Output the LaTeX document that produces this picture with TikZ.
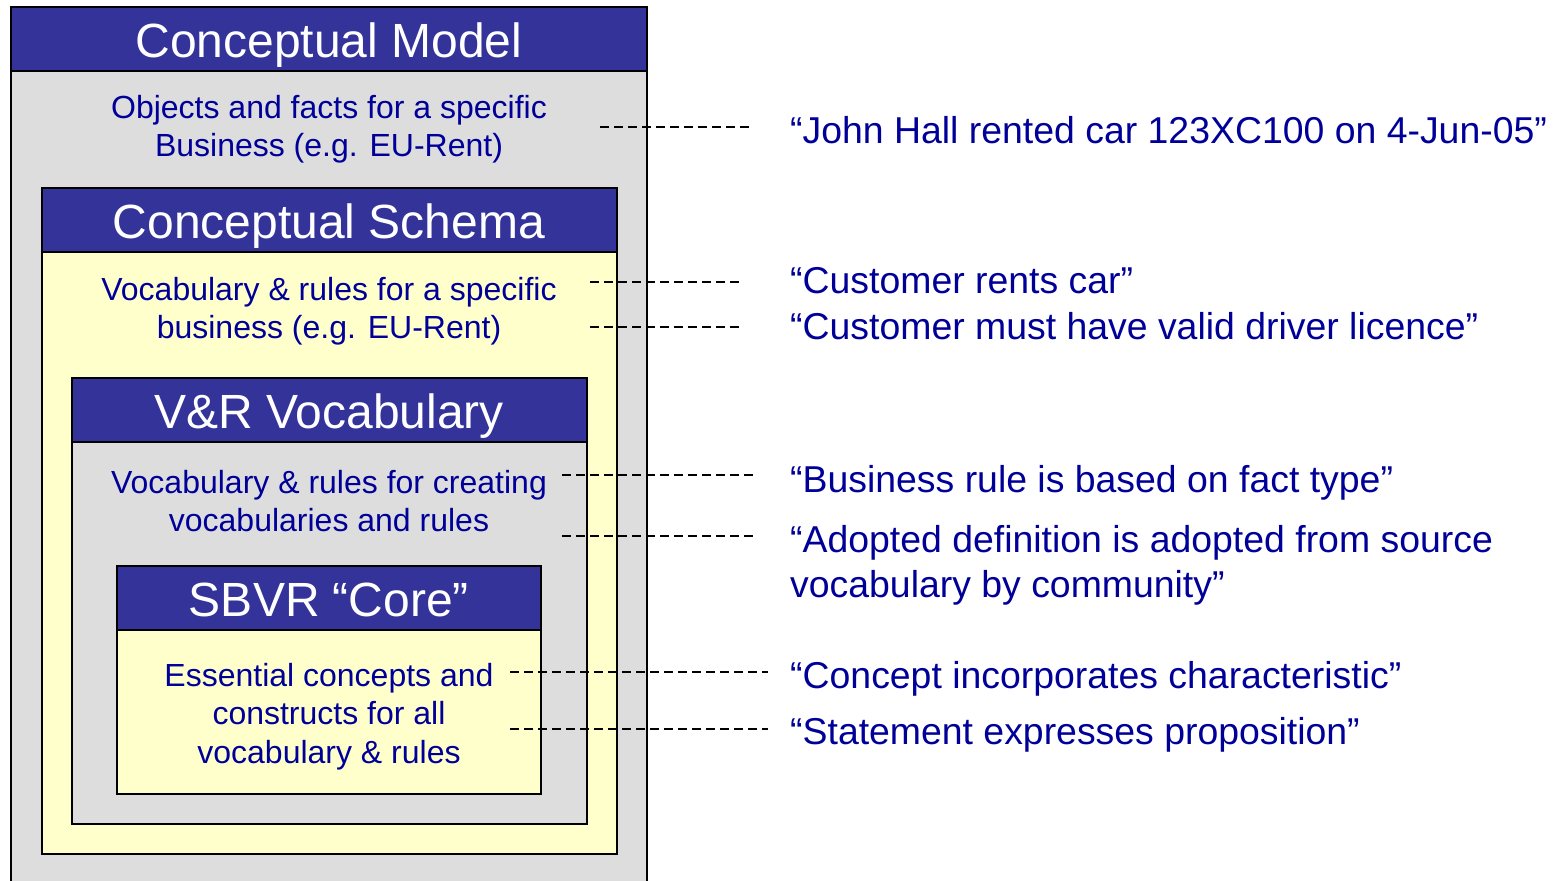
\documentclass[tikz,border=0pt]{standalone}
\usepackage{fontspec}
\setmainfont{Liberation Sans}
\usepackage{xcolor}
\usepackage{tikz}
\definecolor{headblue}{HTML}{333399}
\definecolor{boxgrey}{HTML}{DDDDDD}
\definecolor{boxyellow}{HTML}{FFFFCC}
\definecolor{textblue}{HTML}{000099}
\tikzstyle{greybox} = [rectangle, inner sep = 0pt, anchor = north, draw = black, line width = 2pt, fill = boxgrey]
\tikzstyle{yellowbox} = [rectangle, inner sep = 0pt, anchor = north, draw = black, line width = 2pt, fill = boxyellow]
\tikzstyle{headbar} = [rectangle, inner sep = 0pt, anchor = north, minimum height = 64pt, text height = 37pt, text depth = 0pt, draw = black, line width = 2pt, fill = headblue, text = white, font = \fontsize{48}{56}\selectfont]
\tikzstyle{desctext} = [inner sep = 0pt, align = center, text = textblue, font = \fontsize{32}{38.5}\selectfont]
\tikzstyle{quotetext} = [inner sep = 0pt, anchor = base west, align = left, text = textblue, font = \fontsize{37.4}{45}\selectfont]
\tikzstyle{link} = [dash pattern = on 9pt off 5pt, line width = 1.6pt]

\begin{document}
\begin{tikzpicture}[x = 1pt, y = -1pt]
	\clip (0,0) rectangle (1559,881);
	\fill [white] (0,0) rectangle (1559,881);

	\node (model)[greybox, minimum width = 636pt, minimum height = 900pt] at (329,6){};
	\node (modelhead)[headbar, minimum width = 636pt] at (model.north){Conceptual Model};
	\node (modeldesc)[desctext] at (329,129){Objects and facts for a specific\\Business (e.g. EU-Rent)};

	\node (schema)[yellowbox, minimum width = 575pt, minimum height = 666pt] at (329,187){};
	\node (schemahead)[headbar, minimum width = 575pt] at (schema.north){Conceptual Schema};
	\node (schemadesc)[desctext] at (329,311){Vocabulary \& rules for a specific\\business (e.g. EU-Rent)};

	\node (vr)[greybox, minimum width = 515pt, minimum height = 446pt] at (329,377){};
	\node (vrhead)[headbar, minimum width = 515pt] at (vr.north){V\&R Vocabulary};
	\node (vrdesc)[desctext] at (329,501){Vocabulary \& rules for creating\\vocabularies and rules};

	\node (core)[yellowbox, minimum width = 424pt, minimum height = 228pt] at (329,565){};
	\node (corehead)[headbar, minimum width = 424pt] at (core.north){SBVR “Core”};
	\node (coredesc)[desctext] at (329,716.5){Essential concepts and\\constructs for all\\vocabulary \& rules};

	\node (fact)[quotetext] at (790,143){“John Hall rented car 123XC100 on 4-Jun-05”};
	\node (rents)[quotetext] at (790,293){“Customer rents car”};
	\node (licence)[quotetext] at (790,339){“Customer must have valid driver licence”};
	\node (based)[quotetext] at (790,492){“Business rule is based on fact type”};
	\node (adopted)[quotetext, anchor = west] at (790,565){“Adopted definition is adopted from source\\vocabulary by community”};
	\node (incorp)[quotetext] at (790,688){“Concept incorporates characteristic”};
	\node (expresses)[quotetext] at (790,744){“Statement expresses proposition”};

	\coordinate (fact1) at (600,127);
	\coordinate (fact2) at (752,127);
	\coordinate (rents1) at (590,282);
	\coordinate (rents2) at (742,282);
	\coordinate (licence1) at (590,327);
	\coordinate (licence2) at (742,327);
	\coordinate (based1) at (562,475);
	\coordinate (based2) at (757,475);
	\coordinate (adopted1) at (562,536);
	\coordinate (adopted2) at (757,536);
	\coordinate (incorp1) at (510,672);
	\coordinate (incorp2) at (768,672);
	\coordinate (expresses1) at (510,729);
	\coordinate (expresses2) at (768,729);

	\draw [link] (fact1) -- (fact2);
	\draw [link] (rents1) -- (rents2);
	\draw [link] (licence1) -- (licence2);
	\draw [link] (based1) -- (based2);
	\draw [link] (adopted1) -- (adopted2);
	\draw [link] (incorp1) -- (incorp2);
	\draw [link] (expresses1) -- (expresses2);
\end{tikzpicture}
\end{document}
